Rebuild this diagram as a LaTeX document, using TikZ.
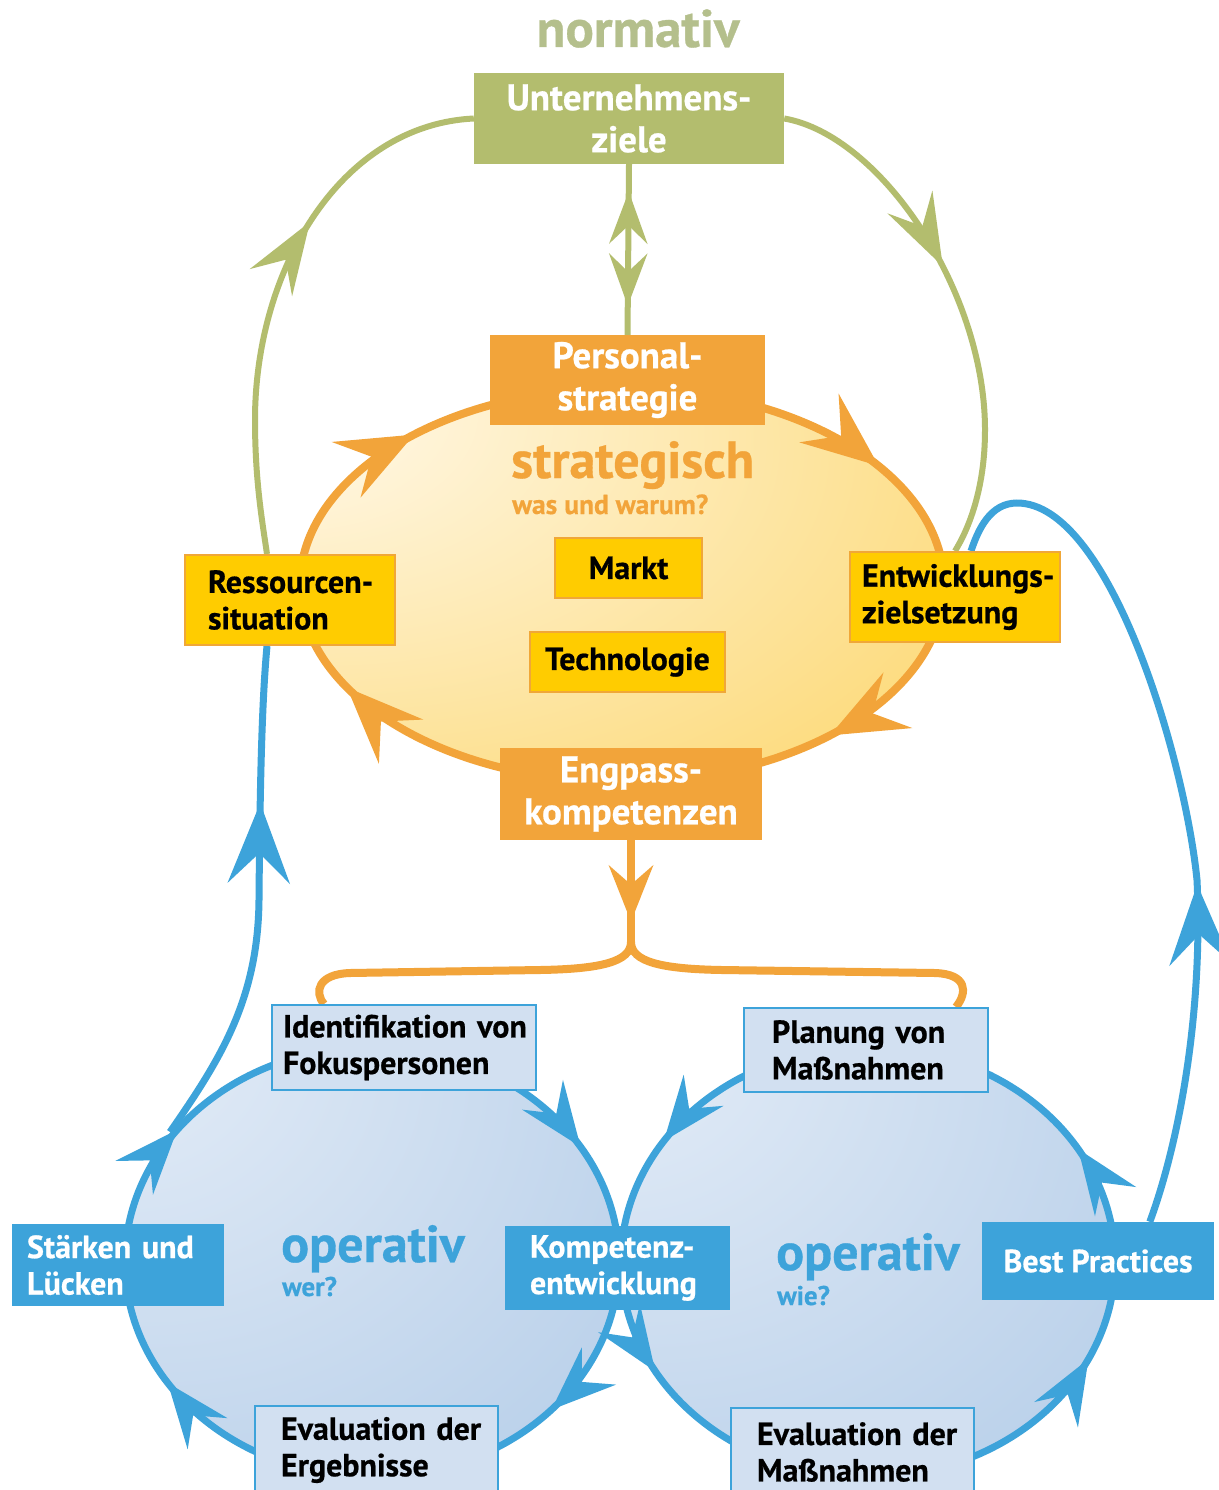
\documentclass[tikz,border=0pt]{standalone}
\usepackage{fontspec}
\setmainfont{PT Sans}[BoldFeatures={FakeBold=0.6}]
\usetikzlibrary{arrows.meta,decorations.markings,calc}
\definecolor{grn}{HTML}{B3BD6E}
\definecolor{grntext}{HTML}{B4BF8C}
\definecolor{org}{HTML}{F2A43A}
\definecolor{gold}{HTML}{FFCC00}
\definecolor{goldedge}{HTML}{F0A738}
\definecolor{blu}{HTML}{3DA3DA}
\definecolor{lblu}{HTML}{D2E0F1}
\definecolor{ocA}{HTML}{FFF6E0}
\definecolor{ocB}{HTML}{FBCD4A}
\definecolor{bcA}{HTML}{E0EAF6}
\definecolor{bcB}{HTML}{9EBEE1}
\pgfdeclareradialshading{orshade}{\pgfpoint{-30bp}{25bp}}{color(0bp)=(ocA); color(8bp)=(ocA); color(72bp)=(ocB); color(120bp)=(ocB)}
\pgfdeclareradialshading{blshade}{\pgfpoint{-30bp}{30bp}}{color(0bp)=(bcA); color(8bp)=(bcA); color(85bp)=(bcB); color(120bp)=(bcB)}
\pgfdeclarelayer{bg}
\pgfsetlayers{bg,main}
\newcommand\wtxt{\fontsize{37}{42}\selectfont\bfseries}
\newcommand\wbtxt{\fontsize{32}{36.5}\selectfont\bfseries}
\newcommand\btxt{\fontsize{32}{36.5}\selectfont\bfseries}
\tikzset{
  TipG/.tip={Stealth[length=72pt,width=50pt,inset=27pt]},
  TipGs/.tip={Stealth[length=52pt,width=38pt,inset=18pt]},
  TipO/.tip={Stealth[length=76pt,width=62pt,inset=28pt]},
  TipOs/.tip={Stealth[length=56pt,width=44pt,inset=19pt]},
  TipB/.tip={Stealth[length=80pt,width=62pt,inset=30pt]},
  TipBs/.tip={Stealth[length=64pt,width=50pt,inset=23pt]},
  gline/.style={draw=grn,line width=6pt},
  oline/.style={draw=org,line width=8pt},
  bline/.style={draw=blu,line width=7pt},
  box/.style={rectangle,inner sep=0pt,align=center},
  obox/.style={box,fill=org,text=white,font=\wtxt},
  ybox/.style={box,fill=gold,draw=goldedge,line width=2pt,text=black,font=\btxt},
  bbox/.style={box,fill=blu,text=white,font=\wbtxt},
  lbbox/.style={box,fill=lblu,draw=blu,line width=2pt,text=black,font=\btxt},
  lft/.style={align=left},
  lbl/.style={inner sep=0pt,font=\bfseries}
}
\begin{document}
\begin{tikzpicture}[x=1pt,y=-1pt]
\begin{pgfonlayer}{bg}
\fill[white] (0,0) rectangle (1218,1490);
\end{pgfonlayer}
\useasboundingbox (0,0) rectangle (1218,1490);

% texts
\node[lbl,text=grntext,font=\fontsize{53}{56}\selectfont\bfseries,anchor=base] (normativ) at (638,47) {normativ};
\node[lbl,text=org,font=\fontsize{52}{56}\selectfont\bfseries,anchor=base west] (strat) at (511,478) {strategisch};
\node[lbl,text=org,font=\fontsize{27.5}{30}\selectfont\bfseries,anchor=base west] (warum) at (512,514) {was und warum?};
\node[lbl,text=blu,font=\fontsize{52}{56}\selectfont\bfseries,anchor=base west] (op1) at (281,1262) {operativ};
\node[lbl,text=blu,font=\fontsize{27}{30}\selectfont\bfseries,anchor=base west] (wer) at (282,1296) {wer?};
\node[lbl,text=blu,font=\fontsize{52}{56}\selectfont\bfseries,anchor=base west] (op2) at (776,1270) {operativ};
\node[lbl,text=blu,font=\fontsize{27}{30}\selectfont\bfseries,anchor=base west] (wie) at (777,1305) {wie?};

% boxes
\node[box,fill=grn,text=white,font=\wtxt,minimum width=310pt,minimum height=91pt] (unt) at (629,118.5) {Unternehmens-\\ziele};
\node[obox,minimum width=275pt,minimum height=90pt] (pers) at (627.5,380) {Personal-\\strategie};
\node[obox,minimum width=262pt,minimum height=92pt] (eng) at (631,794) {Engpass-\\kompetenzen};
\node[ybox,minimum width=147pt,minimum height=60pt] (markt) at (628.5,568) {Markt};
\node[ybox,minimum width=195pt,minimum height=60pt] (tech) at (627.5,662) {Technologie};
\node[ybox,lft,minimum height=90pt,inner xsep=23pt,text width=164pt] (res) at (290,600) {\mbox{Ressourcen-}\\situation};
\node[ybox,lft,minimum height=90pt,inner xsep=12pt,text width=186pt] (entw) at (955,597) {\mbox{Entwicklungs-}\\zielsetzung};
\node[lbbox,lft,minimum height=85pt,inner xsep=11pt,text width=242pt] (ident) at (404,1047.5) {\mbox{Identifikation von}\\Fokuspersonen};
\node[lbbox,lft,minimum height=84pt,inner xsep=28pt,text width=188pt] (plan) at (866,1050) {\mbox{Planung von}\\Maßnahmen};
\node[bbox,lft,minimum height=82pt,inner xsep=15pt,text width=182pt] (staerk) at (118,1265) {\mbox{Stärken und}\\Lücken};
\node[bbox,lft,minimum height=84pt,inner xsep=25pt,text width=175pt] (komp) at (617.5,1268) {\mbox{Kompetenz-}\\entwicklung};
\node[bbox,minimum width=232pt,minimum height=78pt] (best) at (1098,1261) {Best Practices};
\node[lbbox,lft,minimum height=88pt,inner xsep=26pt,text width=191pt] (evalA) at (376.5,1450) {\mbox{Evaluation der}\\Ergebnisse};
\node[lbbox,lft,minimum height=88pt,inner xsep=26pt,text width=191pt] (evalB) at (852.5,1452) {\mbox{Evaluation der}\\Maßnahmen};

\coordinate (fork) at (631,942);
\coordinate (lcj) at (170,1132);

\begin{pgfonlayer}{bg}
% green normative loop
\draw[gline,decoration={markings,mark=at position 0.63 with {\arrow{TipG}}},postaction=decorate]
  ($(res.north west)+(83,0)$) .. controls (262,520) and (255,480) .. (255,420)
  .. controls (255,270) and (340,125) .. (unt.west);
\draw[gline,decoration={markings,mark=at position 0.43 with {\arrow{TipG}}},postaction=decorate]
  (unt.east) .. controls (880,135) and (985,290) .. (985,430)
  .. controls (985,490) and (968,530) .. ($(entw.north west)+(106,0)$);
\draw[gline,decoration={markings,mark=at position 0.16 with {\arrowreversed{TipGs}},mark=at position 0.83 with {\arrow{TipGs}}},postaction=decorate]
  (unt.south) -- (pers.north);

% strategic ellipse
\shade[shading=orshade] (622,585) ellipse [x radius=322, y radius=197];
\draw[oline,decoration={markings,
   mark=at position 0.12 with {\arrow{TipO}},
   mark=at position 0.43 with {\arrow{TipO}},
   mark=at position 0.62 with {\arrow{TipO}},
   mark=at position 0.915 with {\arrow{TipO}}},postaction=decorate]
  (944,585) arc[start angle=0,end angle=360,x radius=322,y radius=197];

% orange fork
\draw[oline,decoration={markings,mark=at position 0.80 with {\arrow{TipOs}}},postaction=decorate]
  (eng.south) -- (fork);
\draw[oline] (fork) .. controls (631,962) and (600,969) .. (540,970) -- (350,973)
  .. controls (318,974) and (314,992) .. ($(ident.north west)+(53,0)$);
\draw[oline] (fork) .. controls (631,962) and (662,969) .. (722,970) -- (935,973)
  .. controls (967,974) and (968,992) .. ($(plan.north east)+(-33,0)$);

% operative circles
\shade[shading=blshade] (372,1262) ellipse [x radius=247, y radius=215];
\shade[shading=blshade] (868,1262) ellipse [x radius=247, y radius=215];
\draw[bline,decoration={markings,
   mark=at position 0.115 with {\arrow{TipBs}},
   mark=at position 0.41 with {\arrow{TipBs}},
   mark=at position 0.60 with {\arrow{TipBs}},
   mark=at position 0.915 with {\arrow{TipBs}}},postaction=decorate]
  (619,1262) arc[start angle=0,end angle=360,x radius=247,y radius=215];
\draw[bline,decoration={markings,
   mark=at position 0.083 with {\arrow{TipBs}},
   mark=at position 0.41 with {\arrow{TipBs}},
   mark=at position 0.58 with {\arrow{TipBs}},
   mark=at position 0.93 with {\arrow{TipBs}}},postaction=decorate]
  (1115,1262) arc[start angle=0,end angle=-360,x radius=247,y radius=215];

% blue feedback connectors
\draw[bline,decoration={markings,mark=at position 0.69 with {\arrow{TipB}}},postaction=decorate]
  (lcj) .. controls (220,1060) and (258,1000) .. (259,900)
  .. controls (260,780) and (262,700) .. ($(res.south west)+(83,0)$);
\draw[bline,decoration={markings,mark=at position 0.40 with {\arrow{TipB}}},postaction=decorate]
  ($(best.north west)+(168,0)$) .. controls (1180,1140) and (1203,1010) .. (1197,880)
  .. controls (1185,760) and (1110,503) .. (1017,503)
  .. controls (990,503) and (978,530) .. ($(entw.north west)+(122,0)$);
\end{pgfonlayer}
\end{tikzpicture}
\end{document}
